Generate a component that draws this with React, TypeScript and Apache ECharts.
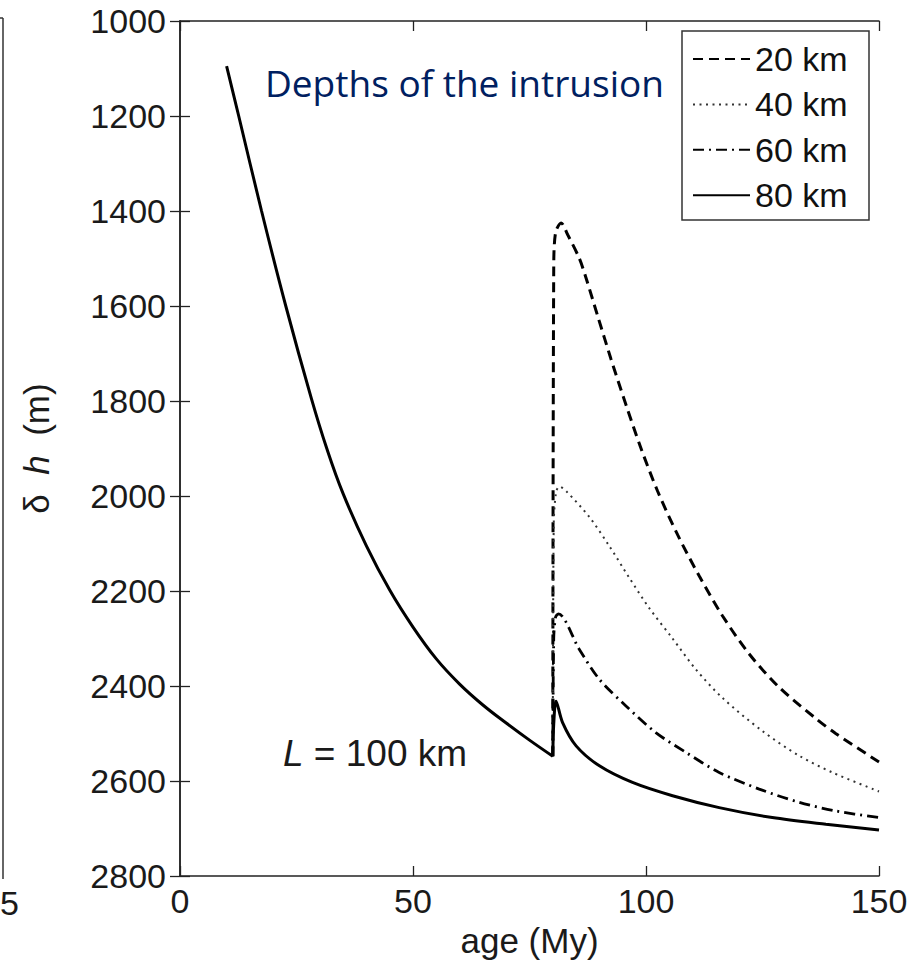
import React, { useEffect, useRef } from "react";
import * as echarts from "echarts";

// ---- data ----
const xTickValues = [0, 50, 100, 150];
const yMin = 1000;
const yMax = 2800;
const yStep = 200;

// shared curve before the intrusion (age My, depth m)
const baseAge = [10, 12.6, 17.5, 22.7, 28.2, 31.5, 35, 40, 45, 50, 55, 60, 65, 70, 75, 80];
const baseDepth = [1095, 1200, 1400, 1600, 1795, 1900, 1995, 2105, 2198, 2276, 2343, 2396, 2440, 2478, 2514, 2548];

// after the intrusion, one curve per intrusion depth
const age20 = [80, 80.2, 80.6, 81.8, 83.2, 85.7, 87.1, 89.6, 92.5, 95.7, 98.9, 102.5, 106.8, 111.4, 116.4, 122.1, 128.6, 136.4, 140.7, 150];
const depth20 = [2548, 1520, 1445, 1425, 1450, 1500, 1540, 1620, 1712, 1808, 1899, 1990, 2082, 2168, 2252, 2332, 2403, 2468, 2500, 2560];

const age40 = [80, 80.2, 80.7, 81.4, 82.9, 87.9, 92.1, 96.4, 100.7, 105.7, 110.7, 116.4, 125, 132.9, 140, 150];
const depth40 = [2548, 2060, 1992, 1980, 1990, 2045, 2105, 2172, 2236, 2300, 2365, 2425, 2495, 2547, 2582, 2622];

const age60 = [80, 80.2, 80.6, 81.2, 85.7, 90, 95.7, 102.1, 108.6, 115.7, 124.3, 132.9, 140.7, 150];
const depth60 = [2548, 2300, 2255, 2248, 2323, 2386, 2442, 2498, 2540, 2582, 2617, 2645, 2663, 2677];

const age80 = [80, 80.2, 80.7, 82.1, 85, 90, 97.1, 105.7, 115.7, 127.1, 138.6, 150];
const depth80 = [2548, 2480, 2432, 2477, 2526, 2568, 2603, 2631, 2656, 2677, 2691, 2703];

const seriesNames = ["20 km", "40 km", "60 km", "80 km"];

const zip = (a: number[], b: number[]) => a.map((v, i) => [v, b[i]]);

const FONT = "'Liberation Sans', Arial, Helvetica, sans-serif";

export default function App() {
  const ref = useRef<HTMLDivElement>(null);

  useEffect(() => {
    if (!ref.current) return;
    const chart = echarts.init(ref.current, undefined, { renderer: "svg" });

    const axisLine = { show: true, lineStyle: { color: "#222", width: 1.5 } };
    const tick = { show: true, inside: true, length: 10, lineStyle: { color: "#222", width: 1.3 } };

    const option: any = {
      animation: false,
      backgroundColor: "#fff",
      grid: { left: 180, top: 21, right: 33, bottom: 87, containLabel: false },
      xAxis: [
        {
          type: "value",
          min: xTickValues[0],
          max: xTickValues[xTickValues.length - 1],
          interval: 50,
          position: "bottom",
          axisLine,
          axisTick: tick,
          splitLine: { show: false },
          axisLabel: { fontSize: 34, color: "#1a1a1a", fontFamily: FONT, margin: 8, formatter: (v: number) => String(v) },
          name: "age (My)",
          nameLocation: "middle",
          nameGap: 46,
          nameTextStyle: { fontSize: 35, color: "#1a1a1a", fontFamily: FONT },
        },
        {
          type: "value",
          min: xTickValues[0],
          max: xTickValues[xTickValues.length - 1],
          interval: 50,
          position: "top",
          axisLine,
          axisTick: tick,
          splitLine: { show: false },
          axisLabel: { show: false },
        },
      ],
      yAxis: [
        {
          type: "value",
          inverse: true,
          min: yMin,
          max: yMax,
          interval: yStep,
          position: "left",
          axisLine,
          axisTick: tick,
          splitLine: { show: false },
          axisLabel: { fontSize: 34, color: "#1a1a1a", fontFamily: FONT, margin: 14, formatter: (v: number) => String(v) },
          name: "δ  {i|h}  (m)",
          nameLocation: "middle",
          nameRotate: 90,
          nameGap: 126,
          nameTextStyle: {
            fontSize: 35,
            color: "#1a1a1a",
            fontFamily: FONT,
            rich: { i: { fontStyle: "italic", fontSize: 35, fontFamily: FONT, color: "#1a1a1a" } },
          },
        },
        {
          type: "value",
          inverse: true,
          min: yMin,
          max: yMax,
          interval: yStep,
          position: "right",
          axisLine,
          axisTick: tick,
          splitLine: { show: false },
          axisLabel: { show: false },
        },
      ],
      legend: {
        data: seriesNames,
        orient: "vertical",
        left: 692,
        top: 42,
        padding: 0,
        itemWidth: 57,
        itemHeight: 14,
        itemGap: 11.4,
        selectedMode: false,
        z: 5,
        itemStyle: { opacity: 0 },
        textStyle: { fontSize: 34, lineHeight: 31, color: "#111", fontFamily: FONT },
      },
      graphic: [
        {
          type: "rect",
          z: 3,
          shape: { x: 682, y: 31, width: 187, height: 189 },
          style: { fill: "#fff", stroke: "#333", lineWidth: 1.5 },
        },
        {
          type: "text",
          x: 265,
          y: 82,
          z: 6,
          style: {
            text: "Depths of the intrusion",
            fill: "#002060",
            fontSize: 37,
            fontFamily: "'Open Sans', 'Noto Sans', sans-serif",
            textAlign: "left",
            textVerticalAlign: "middle",
            align: "left",
            verticalAlign: "middle",
          },
        },
        {
          type: "text",
          x: 283,
          y: 753,
          z: 6,
          style: {
            text: "{i|L} = 100 km",
            fill: "#1a1a1a",
            fontSize: 37,
            fontFamily: FONT,
            textAlign: "left",
            textVerticalAlign: "middle",
            align: "left",
            verticalAlign: "middle",
            rich: { i: { fontStyle: "italic", fontSize: 37, fontFamily: FONT, fill: "#1a1a1a" } },
          },
        },
        {
          type: "line",
          shape: { x1: 3, y1: 18, x2: 3, y2: 879 },
          style: { stroke: "#333", lineWidth: 1.5 },
        },
        {
          type: "line",
          shape: { x1: 0, y1: 18, x2: 3, y2: 18 },
          style: { stroke: "#333", lineWidth: 1.5 },
        },
        {
          type: "text",
          x: 0,
          y: 903,
          style: {
            text: "5",
            fill: "#1a1a1a",
            fontSize: 34,
            fontFamily: FONT,
            textAlign: "left",
            textVerticalAlign: "middle",
            align: "left",
            verticalAlign: "middle",
          },
        },
      ],
      series: [
        {
          name: "20 km",
          type: "line",
          data: zip(age20, depth20),
          symbol: "none",
          smooth: 0.3,
          lineStyle: { color: "#000", width: 3, type: [10, 6] },
          itemStyle: { color: "#000" },
          z: 3,
        },
        {
          name: "40 km",
          type: "line",
          data: zip(age40, depth40),
          symbol: "none",
          smooth: 0.3,
          lineStyle: { color: "#333", width: 2, type: [2, 4.5] },
          itemStyle: { color: "#333" },
          z: 3,
        },
        {
          name: "60 km",
          type: "line",
          data: zip(age60, depth60),
          symbol: "none",
          smooth: 0.3,
          lineStyle: { color: "#000", width: 2.8, type: [11, 5, 2, 5] },
          itemStyle: { color: "#000" },
          z: 3,
        },
        {
          name: "80 km",
          type: "line",
          data: zip(age80, depth80),
          symbol: "none",
          smooth: 0.3,
          lineStyle: { color: "#000", width: 3, type: "solid" },
          itemStyle: { color: "#000" },
          z: 3,
        },
        {
          name: "80 km",
          type: "line",
          data: zip(baseAge, baseDepth),
          symbol: "none",
          smooth: 0.4,
          lineStyle: { color: "#000", width: 3, type: "solid" },
          itemStyle: { color: "#000" },
          z: 3,
        },
      ],
    };

    chart.setOption(option);
    return () => chart.dispose();
  }, []);

  return (
    <div
      ref={ref}
      style={{ position: "fixed", left: 0, top: 0, width: 912, height: 963, background: "#fff" }}
    />
  );
}
